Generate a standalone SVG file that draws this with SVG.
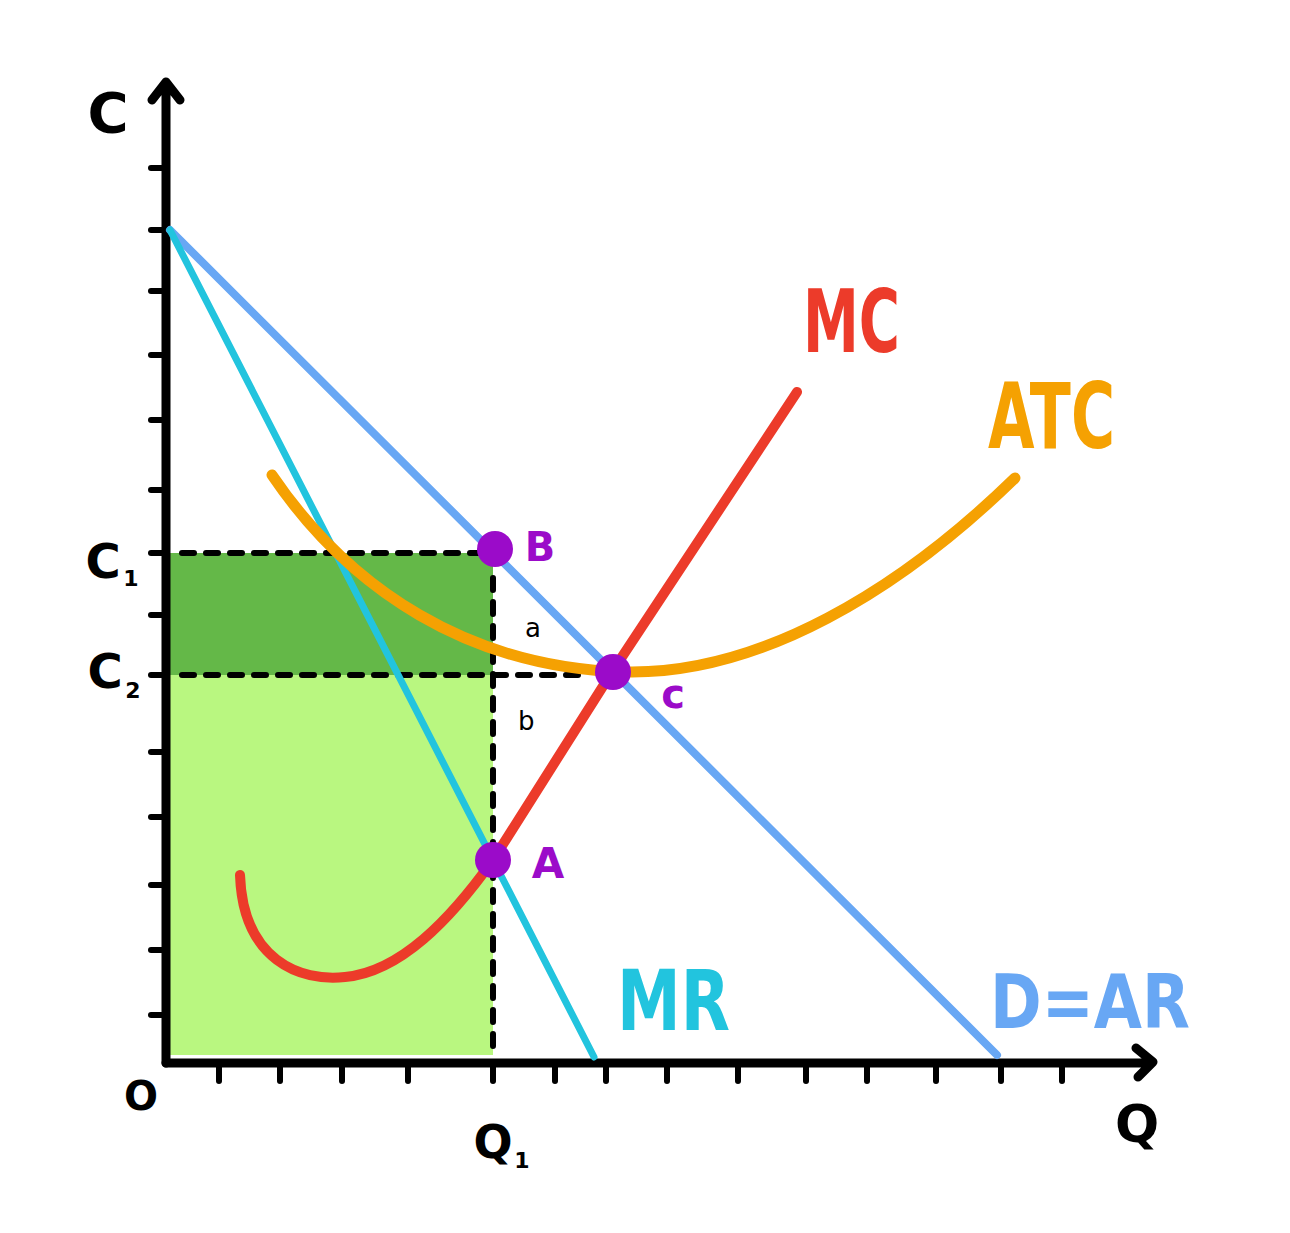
<svg xmlns="http://www.w3.org/2000/svg" width="1290" height="1233" viewBox="0 0 1290 1233">
<style>
.ax{stroke:#000;stroke-width:9;fill:none;stroke-linecap:round;stroke-linejoin:round}
.tk{stroke:#000;stroke-width:6;stroke-linecap:round}
.dash{stroke:#000;stroke-width:6;stroke-dasharray:12 12;stroke-linecap:round;fill:none}
.lbl{font-family:"DejaVu Sans",sans-serif;font-weight:bold}
.pt{fill:#9b0bc9}
</style>
<rect width="1290" height="1233" fill="#fff"/>
<g id="areas">
<rect x="170" y="553" width="323" height="122" fill="#64b848"/>
<rect x="170" y="675" width="323" height="380" fill="#b9f780"/>
</g>
<g id="axes">
<path class="ax" d="M166,1063 L166,82 M152,100 L166,82 L180,100"/>
<path class="ax" d="M166,1063 L1152,1063 M1136,1048 L1153,1062 L1138,1077"/>
<g class="tk">
<line x1="151" y1="168" x2="165" y2="168"/><line x1="151" y1="230" x2="165" y2="230"/>
<line x1="151" y1="291" x2="165" y2="291"/><line x1="151" y1="355" x2="165" y2="355"/>
<line x1="151" y1="420" x2="165" y2="420"/><line x1="151" y1="490" x2="165" y2="490"/>
<line x1="151" y1="553" x2="165" y2="553"/><line x1="151" y1="615" x2="165" y2="615"/>
<line x1="151" y1="675" x2="165" y2="675"/><line x1="151" y1="752" x2="165" y2="752"/>
<line x1="151" y1="817" x2="165" y2="817"/><line x1="151" y1="885" x2="165" y2="885"/>
<line x1="151" y1="950" x2="165" y2="950"/><line x1="151" y1="1015" x2="165" y2="1015"/>
<line x1="219" y1="1065" x2="219" y2="1081"/><line x1="280" y1="1065" x2="280" y2="1081"/>
<line x1="342" y1="1065" x2="342" y2="1081"/><line x1="408" y1="1065" x2="408" y2="1081"/>
<line x1="493" y1="1065" x2="493" y2="1081"/><line x1="555" y1="1065" x2="555" y2="1081"/>
<line x1="606" y1="1065" x2="606" y2="1081"/><line x1="667" y1="1065" x2="667" y2="1081"/>
<line x1="738" y1="1065" x2="738" y2="1081"/><line x1="806" y1="1065" x2="806" y2="1081"/>
<line x1="867" y1="1065" x2="867" y2="1081"/><line x1="936" y1="1065" x2="936" y2="1081"/>
<line x1="1001" y1="1065" x2="1001" y2="1081"/><line x1="1062" y1="1065" x2="1062" y2="1081"/>
</g>
<text class="lbl" x="108" y="132" font-size="56" text-anchor="middle">C</text>
<text class="lbl" x="1137" y="1142" font-size="52" text-anchor="middle">Q</text>
<text class="lbl" x="141" y="1110" font-size="40" text-anchor="middle">O</text>
<text class="lbl" x="103" y="578" font-size="48" text-anchor="middle">C</text>
<text class="lbl" x="131" y="586" font-size="22" text-anchor="middle">1</text>
<text class="lbl" x="105" y="688" font-size="48" text-anchor="middle">C</text>
<text class="lbl" x="133" y="698" font-size="22" text-anchor="middle">2</text>
<text class="lbl" x="493" y="1158" font-size="46" text-anchor="middle">Q</text>
<text class="lbl" x="522" y="1168" font-size="22" text-anchor="middle">1</text>
</g>
<g id="guides">
<line class="dash" x1="182" y1="553" x2="480" y2="553"/>
<line class="dash" x1="182" y1="675" x2="590" y2="675"/>
<line class="dash" x1="493" y1="578" x2="493" y2="1050"/>
<text x="525" y="637" font-family="DejaVu Sans,sans-serif" font-size="26">a</text>
<text x="518" y="730" font-family="DejaVu Sans,sans-serif" font-size="26">b</text>
</g>
<g id="connectors" fill="none" stroke-linecap="round">
<line x1="170" y1="230" x2="997" y2="1055" stroke="#68a7f4" stroke-width="8"/>
<line x1="170" y1="230" x2="594" y2="1057" stroke="#22c4de" stroke-width="7"/>
<path d="M272,475 C350,590 470,668 625,672 C760,675 900,590 1015,478" stroke="#f5a102" stroke-width="11"/>
<path d="M240,875 C243,960 300,982 345,977 C400,972 450,920 493,860 L612,672 L797,392" stroke="#ec3b2a" stroke-width="10" stroke-linejoin="round"/>
</g>
<g id="points">
<circle class="pt" cx="495" cy="549" r="18"/>
<circle class="pt" cx="613" cy="672" r="18"/>
<circle class="pt" cx="493" cy="860" r="18"/>
<text class="lbl" x="540" y="561" font-size="40" fill="#9b0bc9" text-anchor="middle">B</text>
<text class="lbl" x="673" y="708" font-size="40" fill="#9b0bc9" text-anchor="middle">c</text>
<text class="lbl" x="548" y="878" font-size="42" fill="#9b0bc9" text-anchor="middle">A</text>
</g>
<g id="labels">
<text class="lbl" x="803" y="352" font-size="88" fill="#ec3b2a" textLength="97" lengthAdjust="spacingAndGlyphs">MC</text>
<text class="lbl" x="988" y="448" font-size="90" fill="#f5a102" textLength="127" lengthAdjust="spacingAndGlyphs">ATC</text>
<text class="lbl" x="617" y="1030" font-size="84" fill="#22c4de" textLength="113" lengthAdjust="spacingAndGlyphs">MR</text>
<text class="lbl" x="990" y="1028" font-size="74" fill="#68a7f4" textLength="200" lengthAdjust="spacingAndGlyphs">D=AR</text>
</g>
</svg>
